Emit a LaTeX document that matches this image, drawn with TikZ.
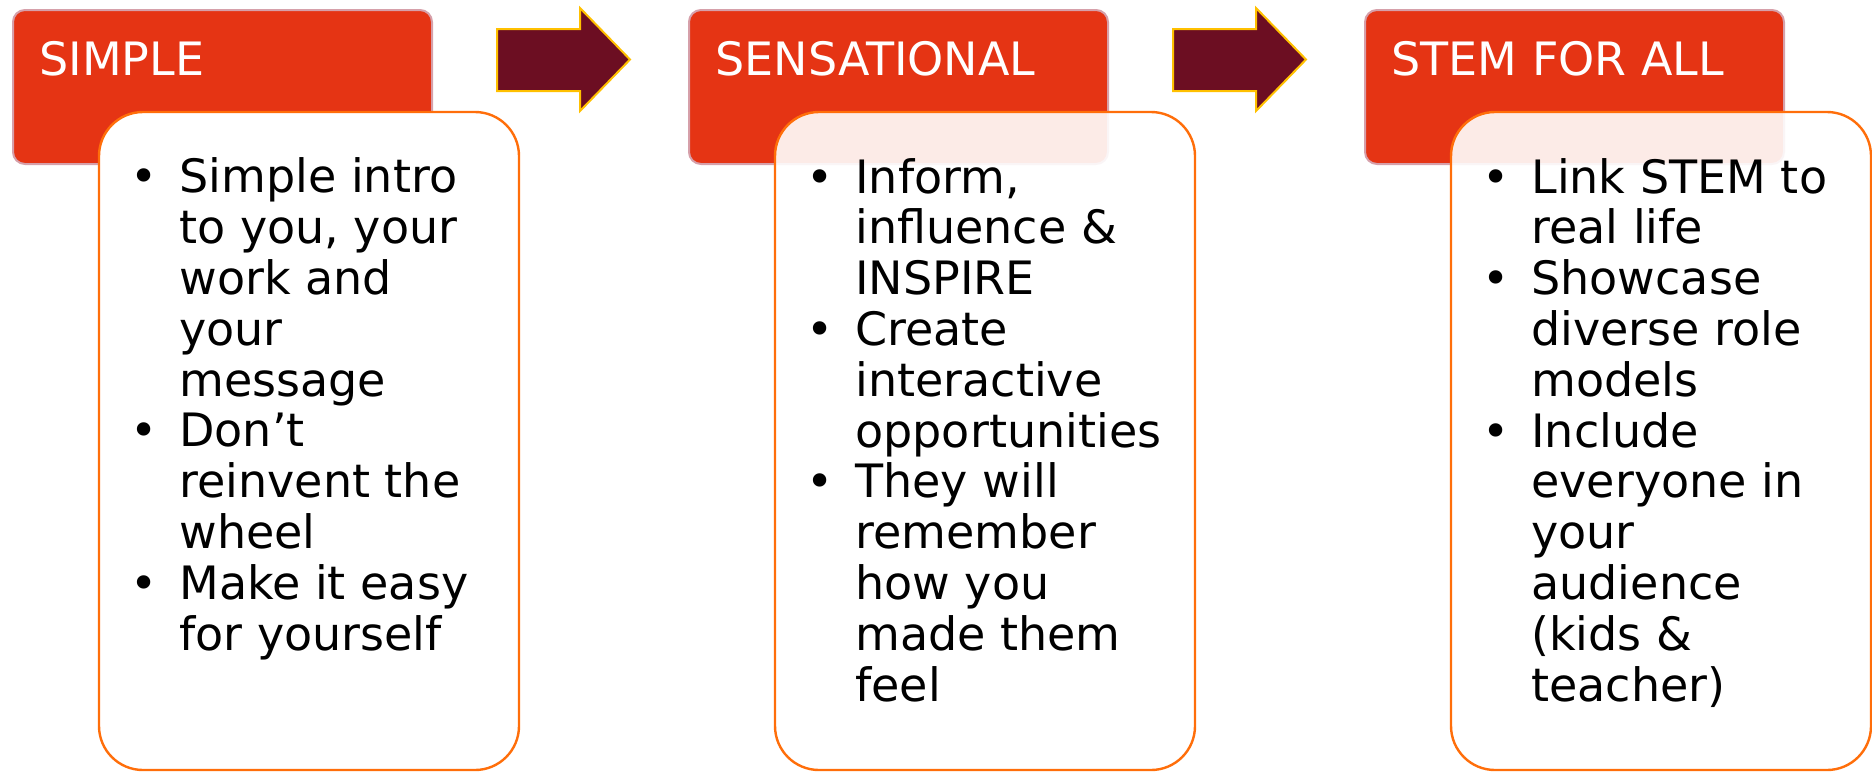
\documentclass[tikz,border=0pt]{standalone}
\usepackage{fontspec}
\setmainfont{DejaVu Sans}
\definecolor{headred}{RGB}{229,52,20}
\definecolor{headline}{RGB}{214,160,170}
\definecolor{boxorange}{RGB}{255,110,10}
\definecolor{arrowfill}{RGB}{108,14,34}
\definecolor{arrowline}{RGB}{255,192,0}
\tikzset{
  head/.style={draw=headline, line width=1pt, fill=headred, rounded corners=6pt,
    minimum width=209.5pt, minimum height=77pt, inner sep=0pt},
  listbox/.style={draw=boxorange, line width=1.2pt, fill=white, rounded corners=22pt,
    minimum width=210pt, minimum height=329pt, inner sep=0pt},
  title/.style={text=white, font=\fontsize{23}{25.4}\selectfont, inner sep=0pt, anchor=base west},
  items/.style={align=left, font=\fontsize{23}{25.4}\selectfont, inner sep=0pt, anchor=base west},
  blockarrow/.style={fill=arrowfill, draw=arrowline, line width=1pt},
}
\newcommand{\itm}{\llap{\textbullet\hspace{11pt}}}
\begin{document}
\begin{tikzpicture}[x=0.5pt, y=-0.5pt]
  \useasboundingbox (0,0) rectangle (1872,772);

  % Headers
  \node (hd1) [head] at (222.5,87) {};
  \node (hd2) [head] at (898.5,87) {};
  \node (hd3) [head] at (1574.5,87) {};
  \node (t1) [title] at (39,75) {SIMPLE};
  \node (t2) [title] at (715,75) {SENSATIONAL};
  \node (t3) [title] at (1391,75) {STEM FOR ALL};

  % Bullet boxes (anchored on the baseline of the last line)
  \node (bx1) [listbox] at (309,441) {};
  \node (bx2) [listbox, fill opacity=0.9] at (985,441) {};
  \node (bx3) [listbox, fill opacity=0.9] at (1661,441) {};

  \node (ls1) [items] at (179,650) {\itm Simple intro\\ to you, your\\ work and\\ your\\ message\\
    \itm Don’t\\ reinvent the\\ wheel\\ \itm Make it easy\\ for yourself};
  \node (ls2) [items] at (855,701) {\itm Inform,\\ influence \&\\ INSPIRE\\ \itm Create\\
    interactive\\ opportunities\\ \itm They will\\ remember\\ how you\\ made them\\ feel};
  \node (ls3) [items] at (1531,701) {\itm Link STEM to\\ real life\\ \itm Showcase\\ diverse role\\
    models\\ \itm Include\\ everyone in\\ your\\ audience\\ (kids \&\\ teacher)};

  % Arrows
  \draw[blockarrow] (497,29) -- (580,29) -- (580,8) -- (630,59.5) -- (580,111) -- (580,91) -- (497,91) -- cycle;
  \draw[blockarrow] (1173,29) -- (1256,29) -- (1256,8) -- (1306,59.5) -- (1256,111) -- (1256,91) -- (1173,91) -- cycle;
\end{tikzpicture}
\end{document}
